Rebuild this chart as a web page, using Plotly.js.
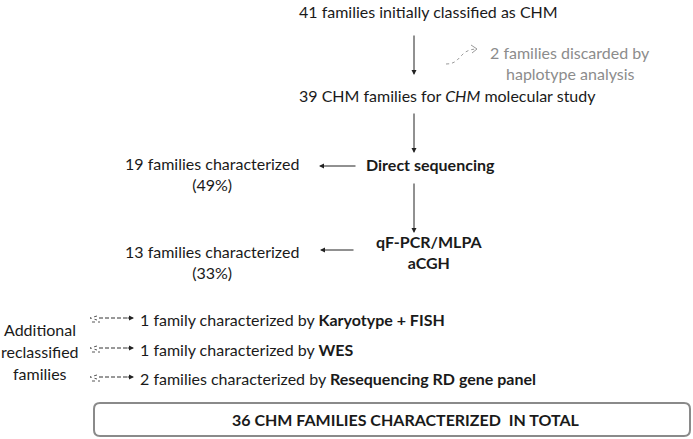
<!DOCTYPE html>
<html><head><meta charset="utf-8">
<script src="https://cdn.plot.ly/plotly-3.0.1.min.js"></script>
<style>html,body{margin:0;padding:0;background:#fff}#c{width:693px;height:439px}</style>
</head><body><div id="c"></div>
<script>
// Flowchart content
const mainSteps = ["41 families initially classified as CHM", "39 CHM families for <i>CHM</i> molecular study"];
const discardedNote = ["2 families discarded by", "haplotype analysis"];
const methods = ["<b>Direct sequencing</b>", "<b>qF-PCR/MLPA</b><br><b>aCGH</b>"];
const characterized = ["19 families characterized<br>(49%)", "13 families characterized<br>(33%)"];
const additionalLabel = ["Additional", "reclassified", "families"];
const additionalItems = [
  "1 family characterized by <b>Karyotype + FISH</b>",
  "1 family characterized by <b>WES</b>",
  "2 families characterized by <b>Resequencing RD gene panel</b>"
];
const totalLabel = ["<b>36 CHM FAMILIES CHARACTERIZED  IN TOTAL</b>"];

const FONT = "Lato, Open Sans, sans-serif";
const fs = 16;
const ann = [];
const shapes = [];
function txt(x, y, t, opt) {
  ann.push(Object.assign({x: x, y: y, xref: 'x', yref: 'y', text: t, showarrow: false,
    font: {family: FONT, size: fs, color: '#1a1a1a'}, xanchor: 'center', yanchor: 'middle'}, opt || {}));
}
function arrow(x0, y0, x1, y1, color) {
  ann.push({x: x1, y: y1, ax: x0, ay: y0, xref: 'x', yref: 'y', axref: 'x', ayref: 'y', text: '',
    showarrow: true, arrowhead: 2, arrowsize: 1, arrowwidth: 1, arrowcolor: color || '#222', standoff: 0});
}

// main column
txt(428, 11, mainSteps[0]);
arrow(414, 34, 414, 75);
txt(447, 95, mainSteps[1]);
arrow(414, 112, 414, 153);
txt(430, 164, methods[0]);
arrow(414, 182, 414, 233);
txt(429, 252, methods[1]);

// discarded note
txt(570, 52, discardedNote[0], {font: {family: FONT, size: fs, color: '#8c8c8c'}});
txt(570, 73, discardedNote[1], {font: {family: FONT, size: fs, color: '#8c8c8c'}});
shapes.push({type: 'path', xref: 'x', yref: 'y', path: 'M 446 64 C 462 64, 458 50, 476 49',
  line: {color: '#9a9a9a', width: 1, dash: 'dot'}});
shapes.push({type: 'path', xref: 'x', yref: 'y', path: 'M 471 45 L 477 49 L 472 53',
  line: {color: '#9a9a9a', width: 1}});

// characterized
txt(212, 174, characterized[0]);
arrow(357, 166, 319, 166);
txt(212, 262, characterized[1]);
arrow(355, 250, 320, 250);

// additional
const ys = [318, 348, 377];
txt(40, 329, additionalLabel[0]);
txt(40, 351, additionalLabel[1]);
txt(40, 373, additionalLabel[2]);
ys.forEach(function (y, i) {
  shapes.push({type: 'path', xref: 'x', yref: 'y', path: 'M 97 ' + (y - 2) + ' L 90 ' + y + ' L 97 ' + (y + 2),
    line: {color: '#555', width: 1, dash: 'dot'}});
  shapes.push({type: 'line', xref: 'x', yref: 'y', x0: 92, x1: 100, y0: y + 4, y1: y + 4,
    line: {color: '#555', width: 1, dash: 'dot'}});
  shapes.push({type: 'line', xref: 'x', yref: 'y', x0: 99, x1: 128, y0: y, y1: y,
    line: {color: '#333', width: 1, dash: '4px,2px'}});
  arrow(126, y, 134, y);
  txt(138, y + 1, additionalItems[i], {xanchor: 'left'});
});

// total box (rounded)
const bx0 = 94, bx1 = 690, by0 = 403, by1 = 436, r = 6;
shapes.push({type: 'path', xref: 'x', yref: 'y',
  path: 'M ' + (bx0 + r) + ' ' + by0 + ' L ' + (bx1 - r) + ' ' + by0 + ' Q ' + bx1 + ' ' + by0 + ' ' + bx1 + ' ' + (by0 + r) +
    ' L ' + bx1 + ' ' + (by1 - r) + ' Q ' + bx1 + ' ' + by1 + ' ' + (bx1 - r) + ' ' + by1 +
    ' L ' + (bx0 + r) + ' ' + by1 + ' Q ' + bx0 + ' ' + by1 + ' ' + bx0 + ' ' + (by1 - r) +
    ' L ' + bx0 + ' ' + (by0 + r) + ' Q ' + bx0 + ' ' + by0 + ' ' + (bx0 + r) + ' ' + by0 + ' Z',
  line: {color: '#8a8a8a', width: 2}, fillcolor: 'rgba(0,0,0,0)'});
txt(406, 419, totalLabel[0]);

Plotly.newPlot('c', [], {
  width: 693, height: 439, margin: {l: 0, r: 0, t: 0, b: 0},
  paper_bgcolor: '#fff', plot_bgcolor: '#fff',
  xaxis: {range: [0, 693], visible: false, fixedrange: true},
  yaxis: {range: [439, 0], visible: false, fixedrange: true},
  showlegend: false, annotations: ann, shapes: shapes
}, {staticPlot: true});
</script></body></html>
